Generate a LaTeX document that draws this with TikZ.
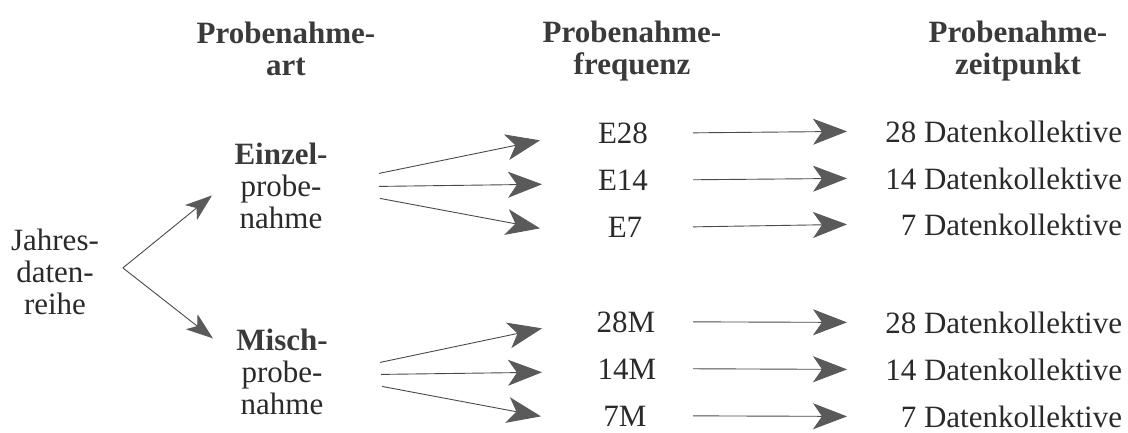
\documentclass[tikz,border=0pt]{standalone}
\usepackage{fontspec}
\setmainfont{Liberation Serif}
\usetikzlibrary{arrows.meta,calc}
\definecolor{ink}{HTML}{2A2A2A}
\definecolor{headink}{HTML}{3A3A3A}
\definecolor{arrowgray}{HTML}{5A5A5A}
\definecolor{linegray}{HTML}{4A4A4A}
\begin{document}
\begin{tikzpicture}[x=1pt,y=-1pt,
  every node/.style={inner sep=0pt, outer sep=0pt, text=ink,
    font=\fontsize{31}{32}\selectfont},
  head/.style={align=center, anchor=north, text=headink,
    font=\fontsize{31}{32}\selectfont\bfseries},
  block/.style={align=center, anchor=north},
  label/.style={anchor=base},
  outcome/.style={anchor=base east},
  bigarrow/.style={draw=linegray, line width=0.9pt,
    -{Stealth[length=34pt, width=26pt, inset=9pt, color=arrowgray]}},
  smallarrow/.style={draw=linegray, line width=0.9pt,
    -{Stealth[length=27pt, width=19pt, inset=7pt, color=arrowgray]}}
]
\useasboundingbox (0,0) rectangle (1128,432);

% column headings
\node[head] (h1) at (286,22) {Probenahme-\\art};
\node[head] (h2) at (632,21) {Probenahme-\\frequenz};
\node[head] (h3) at (1018,21) {Probenahme-\\zeitpunkt};

% source and sampling types
\node[block] (jahr) at (55,229) {Jahres-\\daten-\\reihe};
\node[block] (ein) at (281,143) {\textcolor{headink}{\textbf{Einzel-}}\\probe-\\nahme};
\node[block] (misch) at (282,329) {\textcolor{headink}{\textbf{Misch-}}\\probe-\\nahme};

% sampling frequencies
\node[label] (e28) at (623,143) {E28};
\node[label] (e14) at (623,190) {E14};
\node[label] (e7)  at (625,237) {E7};
\node[label] (m28) at (626,332) {28M};
\node[label] (m14) at (627,379) {14M};
\node[label] (m7)  at (625,426) {7M};

% resulting data sets
\node[outcome] (d28e) at (1122,142) {28 Datenkollektive};
\node[outcome] (d14e) at (1122,189) {14 Datenkollektive};
\node[outcome] (d7e)  at (1122,235) {7 Datenkollektive};
\node[outcome] (d28m) at (1122,333) {28 Datenkollektive};
\node[outcome] (d14m) at (1122,380) {14 Datenkollektive};
\node[outcome] (d7m)  at (1122,427) {7 Datenkollektive};

% helper columns for arrow ends
\coordinate (fork) at ([shift={(24,-4)}]jahr.east);
\coordinate (ft) at (541,0);
\coordinate (rs) at (693,0);
\coordinate (rt) at (847,0);

% split of the annual series
\draw[smallarrow] (fork) -- ([shift={(-22.5,9.5)}]ein.west);
\draw[smallarrow] (fork) -- ([shift={(-23.4,-33.5)}]misch.west);

% single samples
\draw[bigarrow] ([shift={(51.5,-12.5)}]ein.east) -- ($(ft |- e28)+(-1,7.5)$);
\draw[bigarrow] ([shift={(51.5,0.5)}]ein.east)   -- ($(ft |- e14)+(1,4.5)$);
\draw[bigarrow] ([shift={(52.5,12.5)}]ein.east)  -- ($(ft |- e7)+(-1,1.5)$);

% mixed samples
\draw[bigarrow] ([shift={(52.4,-9.5)}]misch.east) -- ($(ft |- m28)+(1,6.5)$);
\draw[bigarrow] ([shift={(53.4,2.5)}]misch.east)  -- ($(ft |- m14)+(1,3.5)$);
\draw[bigarrow] ([shift={(54.4,14.5)}]misch.east) -- ($(ft |- m7)+(0,0.5)$);

% frequency to data sets
\draw[bigarrow] (rs |- e28) -- (rt |- d28e);
\draw[bigarrow] (rs |- e14) -- (rt |- d14e);
\draw[bigarrow] (rs |- e7)  -- (rt |- d7e);
\draw[bigarrow] (rs |- m28) -- (rt |- d28m);
\draw[bigarrow] (rs |- m14) -- (rt |- d14m);
\draw[bigarrow] (rs |- m7)  -- (rt |- d7m);
\end{tikzpicture}
\end{document}
